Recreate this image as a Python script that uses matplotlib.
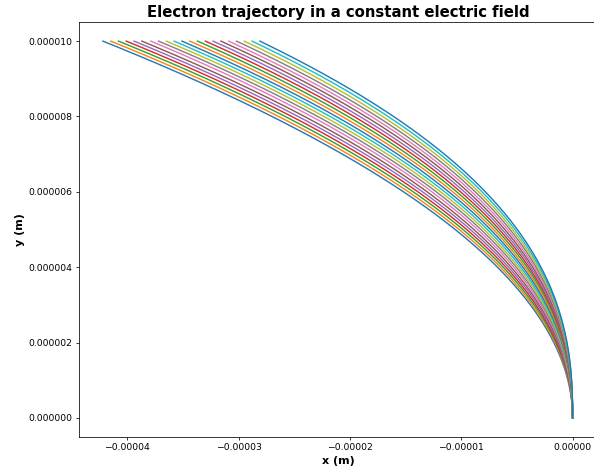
import numpy as np
import matplotlib
matplotlib.use('Agg')
import matplotlib.pyplot as plt

# x position (m) where each trajectory reaches the top
x_end = [-4.22e-5, -4.15e-5, -4.08e-5, -4.01e-5, -3.94e-5, -3.87e-5, -3.79e-5,
         -3.72e-5, -3.65e-5, -3.58e-5, -3.51e-5, -3.44e-5, -3.37e-5, -3.30e-5,
         -3.23e-5, -3.16e-5, -3.09e-5, -3.02e-5, -2.95e-5, -2.88e-5, -2.81e-5]
# how sharply each path bends (estimated from the curve shapes)
bend = [2.000, 2.025, 2.050, 2.075, 2.100, 2.125, 2.150, 2.175, 2.200, 2.225, 2.250,
        2.275, 2.300, 2.325, 2.350, 2.375, 2.400, 2.425, 2.450, 2.475, 2.500]
y_max = 1e-5
y = np.linspace(0, y_max, 300)

fig = plt.figure(figsize=(5.94, 4.73), dpi=100)
ax = fig.add_axes([0.1325, 0.0767, 0.8744, 0.8762])
for xe, p in zip(x_end, bend):
    ax.plot(xe * (y / y_max) ** p, y, linewidth=1.0)

ax.set_xlim(-4.437e-5, 0.229e-5)
ax.ticklabel_format(style='plain', useOffset=False)
ax.set_title('Electron trajectory in a constant electric field', fontsize=10.7,
             fontweight='bold', pad=4)
ax.set_xlabel('x (m)', fontsize=8, fontweight='bold', labelpad=2.5)
ax.set_ylabel('y (m)', fontsize=8, fontweight='bold', labelpad=2.5)
ax.tick_params(labelsize=6.7, length=2.3, width=0.55, pad=2.3)
for s in ax.spines.values():
    s.set_linewidth(0.55)
plt.savefig('out.png', dpi=100)
